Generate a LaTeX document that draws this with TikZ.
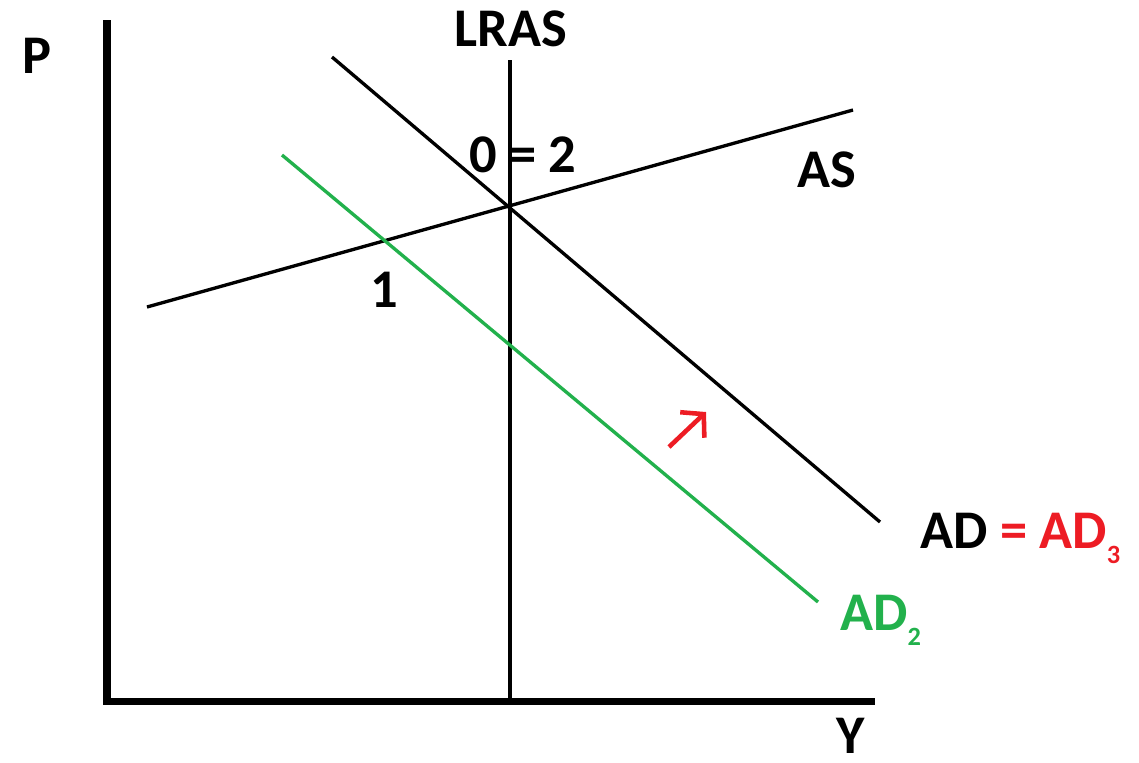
\documentclass[tikz,border=0pt]{standalone}
\usepackage{fontspec}
\setmainfont{Carlito}
\usetikzlibrary{arrows.meta}
\definecolor{AdTwoGreen}{HTML}{22B14C}
\definecolor{AdThreeRed}{HTML}{ED1C24}
\newcommand{\adsub}[1]{\raisebox{-0.6ex}{\fontsize{15}{15}\selectfont #1}}

\begin{document}
\begin{tikzpicture}[x=0.02cm,y=-0.02cm,
    axisline/.style={line width=4pt},
    curveline/.style={line width=1.9pt},
    lbl/.style={font=\fontsize{31}{36}\selectfont\bfseries,inner sep=0pt}]
  \useasboundingbox (0,0) rectangle (1139,762);
  % axes
  \coordinate (ptop) at (107,20);
  \coordinate (origin) at (107,701);
  \coordinate (yend) at (875,701);
  \draw[axisline,line join=miter] (ptop) -- (origin) -- (yend);
  \node[lbl] (plabel) at (37,56) {P};
  \node[lbl] (ylabel) at (851,736) {Y};
  % curves
  \foreach \name/\xa/\ya/\xb/\yb in {lras/510/60/510/701,as/147/307/853/110,ad/332/57/880/522}{
    \coordinate (\name a) at (\xa,\ya);
    \coordinate (\name b) at (\xb,\yb);
    \draw[curveline] (\name a) -- (\name b);
  }
  \coordinate (adtwoa) at (282,155);
  \coordinate (adtwob) at (818,602);
  \draw[curveline,AdTwoGreen] (adtwoa) -- (adtwob);
  % shift arrow
  \coordinate (shifttail) at (669,447);
  \coordinate (shifthead) at (706,412);
  \draw[AdThreeRed,line width=2.6pt,-{Straight Barb[length=9pt,width=20pt]}] (shifttail) -- (shifthead);
  % labels
  \node[lbl] (lraslabel) at (511,29) {LRAS};
  \node[lbl] (eqlabel) at (523,155) {0 = 2};
  \node[lbl] (aslabel) at (827,170) {AS};
  \node[lbl] (onelabel) at (384,290) {1};
  \node[lbl,anchor=base west] (adlabel) at (920,548) {AD \textcolor{AdThreeRed}{= AD\adsub{3}}};
  \node[lbl,anchor=base west,AdTwoGreen] (adtwolabel) at (840,630) {AD\adsub{2}};
\end{tikzpicture}
\end{document}
